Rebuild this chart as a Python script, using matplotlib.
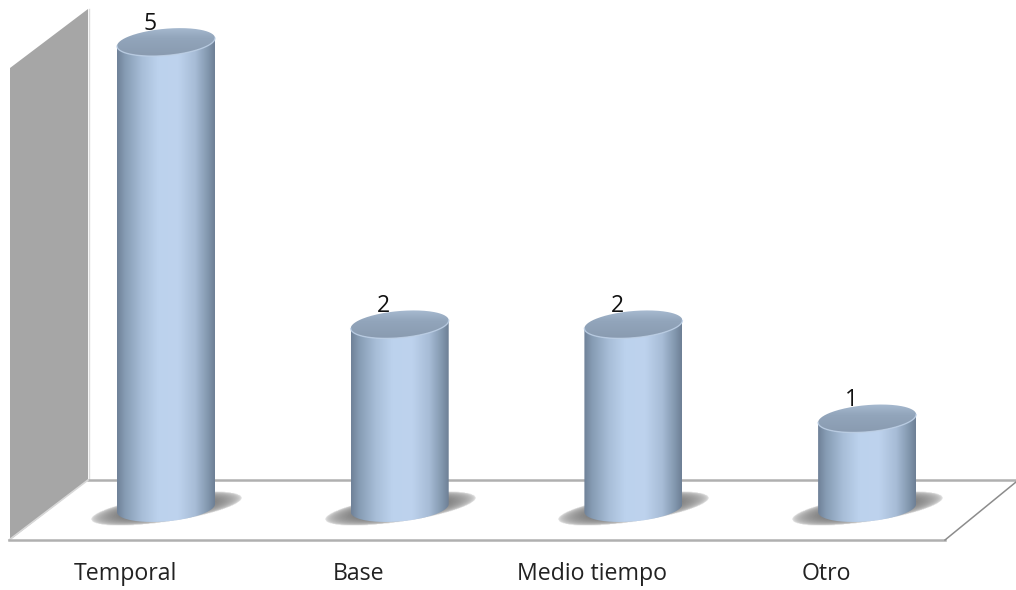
import numpy as np
import matplotlib
matplotlib.use('Agg')
import matplotlib.pyplot as plt
from matplotlib.colors import LinearSegmentedColormap
from matplotlib.patches import Polygon, PathPatch
from matplotlib.path import Path

categories = ['Temporal', 'Base', 'Medio tiempo', 'Otro']
values = [5, 2, 2, 1]

plt.rcParams['font.family'] = ['Open Sans', 'DejaVu Sans']

W, H = 1016, 590
fig = plt.figure(figsize=(W / 100, H / 100), dpi=100)
ax = fig.add_axes([0, 0, 1, 1])

# scales: category 0 sits at pixel 166, one category is 233.7 px, one unit is 94.1 px
ppx = 233.7
ppy = 94.1
xlim = (-166 / ppx, (W - 166) / ppx)
ylim = (-(H - 512.6) / ppy, 512.6 / ppy)


def frac(pts):
    # pixel positions of the frame -> axes fractions
    return [(x / W, 1 - y / H) for x, y in pts]


# wall and floor
ax.add_patch(Polygon(frac([(10, 68), (88, 9), (88, 480), (10, 540)]), closed=True,
                     fc='#a6a6a6', ec='none', transform=ax.transAxes, zorder=1))
ax.plot(*zip(*frac([(89, 9), (89, 479)])), color='#dcdcdc', lw=1.0, transform=ax.transAxes, zorder=1)
ax.plot(*zip(*frac([(88, 480), (W, 480)])), color='#b0b0b0', lw=1.8, transform=ax.transAxes, zorder=1)
ax.plot(*zip(*frac([(9, 540), (88, 480)])), color='#d8d8d8', lw=1.2, transform=ax.transAxes, zorder=1)
ax.plot(*zip(*frac([(9, 540), (945, 540)])), color='#b0b0b0', lw=1.8, transform=ax.transAxes, zorder=1)
ax.plot(*zip(*frac([(945, 540), (W, 482)])), color='#8c8c8c', lw=1.1, transform=ax.transAxes, zorder=1)

body_cmap = LinearSegmentedColormap.from_list('body', [
    (0.00, '#6f8198'), (0.08, '#869bb3'), (0.25, '#a7bdd7'), (0.42, '#bcd2ed'),
    (0.62, '#bed3ee'), (0.80, '#a7bcd6'), (0.93, '#8297ae'), (1.00, '#6d7f95')])
top_cmap = LinearSegmentedColormap.from_list('top', [
    (0.00, '#aec1d8'), (0.14, '#a3b6cc'), (0.40, '#92a5bb'), (1.00, '#8899ae')])
shadow_cmap = LinearSegmentedColormap.from_list('shadow', ['#484848', '#484848'])

half_w = 49 / ppx
half_h = 13.4 / ppy
tilt = 4.0 / ppy
base = 4.6 / ppy
t = np.linspace(0, 2 * np.pi, 200)

gx = np.linspace(-1, 1, 256).reshape(1, -1)
gy = np.linspace(0, 1, 64).reshape(-1, 1)


def ellipse_y(yc, tt):
    # tilted ellipse, right side a little higher
    return yc + half_h * np.sin(tt) + tilt * np.cos(tt)


ang = np.arctan(11 / 75)

for i, v in enumerate(values):
    # shadow on the floor
    sx = np.linspace(i - 0.42, i + 0.42, 220)
    sy = np.linspace(base - 0.3, base + 0.3, 90)
    X, Y = np.meshgrid(sx, sy)
    u = (X - i) * ppx
    w = Y * ppy - 3.6
    a = (u * np.cos(ang) + w * np.sin(ang)) / 76
    b = (-u * np.sin(ang) + w * np.cos(ang)) / 13
    shade = np.clip(1 - np.sqrt(a ** 2 + b ** 2), 0, 1) ** 0.35
    ax.imshow(shade, extent=(sx[0], sx[-1], sy[0], sy[-1]), cmap=shadow_cmap, origin='lower',
              alpha=shade * 0.95, aspect='auto', zorder=2)

    # cylinder side
    tb = np.linspace(np.pi, 2 * np.pi, 80)
    tt = np.linspace(0, np.pi, 80)
    xs = np.r_[i + half_w * np.cos(tb), i + half_w * np.cos(tt)]
    ys = np.r_[ellipse_y(base, tb), ellipse_y(v, -tt)]
    side = PathPatch(Path(np.c_[xs, ys]), fc='none', ec='none', transform=ax.transData)
    ax.add_patch(side)
    im = ax.imshow(gx, extent=(i - half_w, i + half_w, base - 0.3, v + 0.3), cmap=body_cmap,
                   aspect='auto', zorder=3)
    im.set_clip_path(side)

    # top face
    top = PathPatch(Path(np.c_[i + half_w * np.cos(t), ellipse_y(v, t)]), fc='none', ec='none',
                    transform=ax.transData)
    ax.add_patch(top)
    im2 = ax.imshow(gy, extent=(i - half_w, i + half_w, v - half_h - tilt, v + half_h + tilt),
                    cmap=top_cmap, aspect='auto', zorder=4, origin='upper')
    im2.set_clip_path(top)
    ax.plot(i + half_w * np.cos(tb), ellipse_y(v, tb), color='#bccfe6', lw=1.0, alpha=0.8, zorder=4.5)

    # value and category labels
    ax.text(i - 16 / ppx, v + 18 / ppy, str(v), ha='center', va='center', fontsize=16.5,
            color='#111111', zorder=5)
    ax.text(i - 41 / ppx, ylim[0] + 16 / ppy, categories[i],
            ha='center', va='center', fontsize=16.7, color='#222222', zorder=5)

ax.set_xlim(xlim)
ax.set_ylim(ylim)
ax.axis('off')
fig.savefig('out.png', dpi=100, facecolor='white')
